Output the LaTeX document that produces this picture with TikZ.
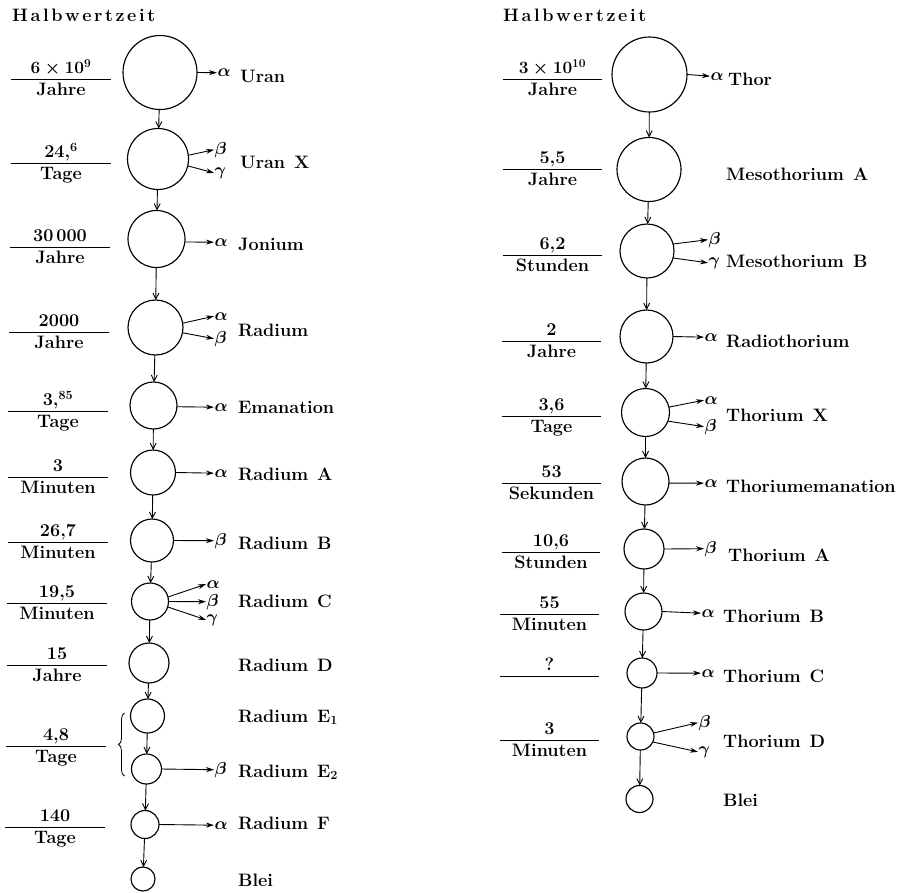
\documentclass[tikz,border=0pt]{standalone}
\usepackage{fontspec}
\usepackage{bm}
\usetikzlibrary{arrows.meta,decorations.pathreplacing}
\newcommand\txtfont{\fontsize{18}{21}\selectfont\bfseries}
\newcommand\grkfont{\fontsize{19}{22}\selectfont\boldmath}
\newcommand\hwz{H\kern2.6pt a\kern2.6pt l\kern2.6pt b\kern2.6pt w\kern2.6pt e\kern2.6pt r\kern2.6pt t\kern2.6pt z\kern2.6pt e\kern2.6pt i\kern2.6pt t}
% #1 name, #2 x1, #3 x2, #4 y, #5 numerator, #6 denominator
\newcommand\halflife[6]{%
  \coordinate (#1a) at (#2,#4);
  \coordinate (#1b) at (#3,#4);
  \draw[fracline] (#1a) -- (#1b);
  \node[txt, anchor=base] (#1n) at ({(#2+#3)/2},{#4-5.5}) {#5};
  \node[txt, anchor=base] (#1d) at ({(#2+#3)/2},{#4+16}) {#6};
}
\tikzset{
  txt/.style={font=\txtfont, inner sep=0pt},
  elname/.style={txt, anchor=base west},
  greek/.style={font=\grkfont, inner sep=0.5pt, anchor=base west},
  nuc/.style={circle, draw, line width=1.15pt, inner sep=0pt, outer sep=0pt},
  down/.style={-{Straight Barb[length=6pt,width=6pt]}, line width=0.9pt},
  decay/.style={-{Stealth[length=8pt,width=5pt]}, line width=0.9pt},
  fracline/.style={line width=0.9pt},
}
\begin{document}
\begin{tikzpicture}[x=1pt,y=-1pt]
\useasboundingbox (0,0) rectangle (902,892);

% ---------------- left column ----------------
\node[txt, anchor=base west] (hl) at (12,21) {\hwz};

\node[nuc, minimum size=74pt] (L1) at (160,72.5) {};
\node[nuc, minimum size=61pt] (L2) at (158,159) {};
\node[nuc, minimum size=57pt] (L3) at (156.5,239) {};
\node[nuc, minimum size=55pt] (L4) at (155.5,327.5) {};
\node[nuc, minimum size=47pt] (L5) at (153.5,405.5) {};
\node[nuc, minimum size=45pt] (L6) at (153,472.5) {};
\node[nuc, minimum size=43pt] (L7) at (152,540.5) {};
\node[nuc, minimum size=37pt] (L8) at (150,601.5) {};
\node[nuc, minimum size=40pt] (L9) at (149,663) {};
\node[nuc, minimum size=34pt] (L10) at (147.5,716) {};
\node[nuc, minimum size=30pt] (L11) at (146.5,769) {};
\node[nuc, minimum size=28pt] (L12) at (145,824.5) {};
\node[nuc, minimum size=24pt] (L13) at (143,879) {};

\foreach \a/\b in {L1/L2,L2/L3,L3/L4,L4/L5,L5/L6,L6/L7,L7/L8,L8/L9,L9/L10,L10/L11,L11/L12,L12/L13}
  \draw[down] (\a) -- (\b);

\halflife{fl1}{11}{111}{79}{{\boldmath$6\times10^{9}$}}{Jahre}
\halflife{fl2}{11}{111}{163}{24,\textsuperscript{6}}{Tage}
\halflife{fl3}{10}{110}{247}{30\,000}{Jahre}
\halflife{fl4}{9}{109}{332}{2000}{Jahre}
\halflife{fl5}{8}{108}{411}{3,\textsuperscript{85}}{Tage}
\halflife{fl6}{8}{108}{477}{3}{Minuten}
\halflife{fl7}{8}{108}{542}{26,7}{Minuten}
\halflife{fl8}{7}{107}{603}{19,5}{Minuten}
\halflife{fl9}{7}{107}{665}{15}{Jahre}
\halflife{fl10}{6}{106}{746}{4,8}{Tage}
\halflife{fl12}{5}{105}{827}{140}{Tage}

\draw[line width=0.8pt, decorate, decoration={brace, amplitude=6pt}] (124.5,776) -- (124.5,713);

% decay particles, left
\node[greek] (L1a) at (217,76.5) {$\bm\alpha$};
\draw[decay] (L1.east) -- (L1a.west);
\node[greek] (L2b) at (214,154) {$\bm\beta$};
\node[greek] (L2g) at (214,175) {$\bm\gamma$};
\draw[decay] (L2.7) -- (L2b.west);
\draw[decay] (L2.-13) -- (L2g.west);
\node[greek] (L3a) at (214,246) {$\bm\alpha$};
\draw[decay] (L3.-6) -- (L3a.west);
\node[greek] (L4a) at (214,320) {$\bm\alpha$};
\node[greek] (L4b) at (214,343) {$\bm\beta$};
\draw[decay] (L4.9) -- (L4a.west);
\draw[decay] (L4.-11) -- (L4b.west);
\node[greek] (L5a) at (214,411) {$\bm\alpha$};
\draw[decay] (L5.-3) -- (L5a.west);
\node[greek] (L6a) at (214,477) {$\bm\alpha$};
\draw[decay] (L6.east) -- (L6a.west);
\node[greek] (L7b) at (214,545) {$\bm\beta$};
\draw[decay] (L7.east) -- (L7b.west);
\node[greek, font=\fontsize{18}{21}\selectfont\boldmath] (L8a) at (206,588) {$\bm\alpha$};
\node[greek, font=\fontsize{18}{21}\selectfont\boldmath] (L8b) at (206,606) {$\bm\beta$};
\node[greek, font=\fontsize{18}{21}\selectfont\boldmath] (L8g) at (206,622) {$\bm\gamma$};
\draw[decay] (L8.14) -- (L8a.west);
\draw[decay] (L8.east) -- (L8b.west);
\draw[decay] (L8.-17) -- (L8g.west);
\node[greek] (L11b) at (214,774) {$\bm\beta$};
\draw[decay] (L11.east) -- (L11b.west);
\node[greek] (L12a) at (214,829) {$\bm\alpha$};
\draw[decay] (L12.east) -- (L12a.west);

% element names, left
\node[elname] (n1) at (240,82) {Uran};
\node[elname] (n2) at (240,168) {Uran\enspace X};
\node[elname] (n3) at (238,250) {Jonium};
\node[elname] (n4) at (238,336) {Radium};
\node[elname] (n5) at (238,413) {Emanation};
\node[elname] (n6) at (238,480) {Radium\enspace A};
\node[elname] (n7) at (238,549) {Radium\enspace B};
\node[elname] (n8) at (238,607) {Radium\enspace C};
\node[elname] (n9) at (238,671) {Radium\enspace D};
\node[elname] (n10) at (238,722) {Radium\enspace E\textsubscript{1}};
\node[elname] (n11) at (238,777) {Radium\enspace E\textsubscript{2}};
\node[elname] (n12) at (238,829) {Radium\enspace F};
\node[elname] (n13) at (238,886) {Blei};

% ---------------- right column ----------------
\node[txt, anchor=base west] (hr) at (503,21) {\hwz};

\node[nuc, minimum size=75pt] (R1) at (649.5,74.5) {};
\node[nuc, minimum size=64pt] (R2) at (649,169.5) {};
\node[nuc, minimum size=54pt] (R3) at (647,251) {};
\node[nuc, minimum size=53pt] (R4) at (646.5,336.5) {};
\node[nuc, minimum size=48pt] (R5) at (645.5,412.5) {};
\node[nuc, minimum size=47pt] (R6) at (645.5,481.5) {};
\node[nuc, minimum size=40pt] (R7) at (644,549) {};
\node[nuc, minimum size=37pt] (R8) at (643.5,611.5) {};
\node[nuc, minimum size=30pt] (R9) at (642,673) {};
\node[nuc, minimum size=27pt] (R10) at (640.5,736.5) {};
\node[nuc, minimum size=27pt] (R11) at (639.5,799) {};

\foreach \a/\b in {R1/R2,R2/R3,R3/R4,R4/R5,R5/R6,R6/R7,R7/R8,R8/R9,R9/R10,R10/R11}
  \draw[down] (\a) -- (\b);

\halflife{fr1}{503}{602}{79}{{\boldmath$3\times10^{10}$}}{Jahre}
\halflife{fr2}{503}{602}{169}{5,5}{Jahre}
\halflife{fr3}{503}{602}{255}{6,2}{Stunden}
\halflife{fr4}{502}{601}{341}{2}{Jahre}
\halflife{fr5}{502}{601}{416}{3,6}{Tage}
\halflife{fr6}{502}{601}{483}{53}{Sekunden}
\halflife{fr7}{502}{600}{552}{10,6}{Stunden}
\halflife{fr8}{500}{599}{614}{55}{Minuten}
\halflife{fr9}{500}{599}{676}{?}{}
\halflife{fr10}{500}{599}{740}{3}{Minuten}

% decay particles, right
\node[greek] (R1a) at (710,80) {$\bm\alpha$};
\draw[decay] (R1.east) -- (R1a.west);
\node[greek] (R3b) at (708,244) {$\bm\beta$};
\node[greek] (R3g) at (708,265) {$\bm\gamma$};
\draw[decay] (R3.15) -- (R3b.west);
\draw[decay] (R3.-15) -- (R3g.west);
\node[greek] (R4a) at (704,341) {$\bm\alpha$};
\draw[decay] (R4.east) -- (R4a.west);
\node[greek] (R5a) at (704,404) {$\bm\alpha$};
\node[greek] (R5b) at (704,431) {$\bm\beta$};
\draw[decay] (R5.13) -- (R5a.west);
\draw[decay] (R5.-21) -- (R5b.west);
\node[greek] (R6a) at (704,487) {$\bm\alpha$};
\draw[decay] (R6.-4) -- (R6a.west);
\node[greek] (R7b) at (704,553) {$\bm\beta$};
\draw[decay] (R7.east) -- (R7b.west);
\node[greek] (R8a) at (701,617) {$\bm\alpha$};
\draw[decay] (R8.east) -- (R8a.west);
\node[greek] (R9a) at (701,677) {$\bm\alpha$};
\draw[decay] (R9.east) -- (R9a.west);
\node[greek] (R10b) at (698,727) {$\bm\beta$};
\node[greek] (R10g) at (698,754) {$\bm\gamma$};
\draw[decay] (R10.15) -- (R10b.west);
\draw[decay] (R10.-24) -- (R10g.west);

% element names, right
\node[elname] (m1) at (728,85) {Thor};
\node[elname] (m2) at (726,180) {Mesothorium\enspace A};
\node[elname] (m3) at (726,267) {Mesothorium\enspace B};
\node[elname] (m4) at (726,347) {Radiothorium};
\node[elname] (m5) at (726,421) {Thorium\enspace X};
\node[elname] (m6) at (726,492) {Thoriumemanation};
\node[elname] (m7) at (728,561) {Thorium\enspace A};
\node[elname] (m8) at (723,622) {Thorium\enspace B};
\node[elname] (m9) at (723,682) {Thorium\enspace C};
\node[elname] (m10) at (723,747) {Thorium\enspace D};
\node[elname] (m11) at (723,806) {Blei};
\end{tikzpicture}
\end{document}
